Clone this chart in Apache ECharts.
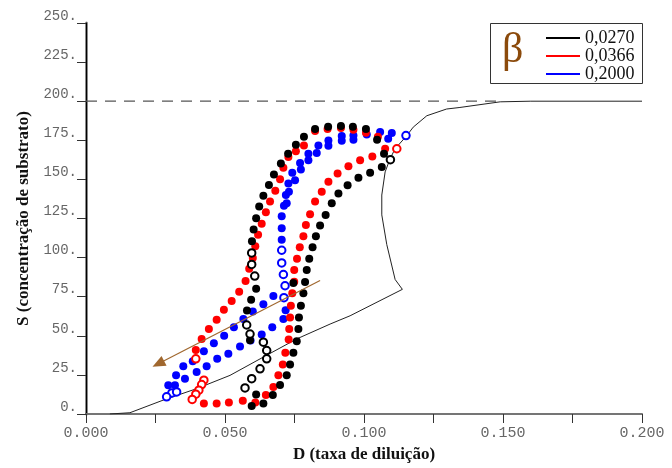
<!DOCTYPE html>
<html>
<head>
<meta charset="utf-8">
<script src="https://cdn.jsdelivr.net/npm/echarts@6/dist/echarts.min.js"></script>
<style>
  html, body { margin: 0; padding: 0; background: #fff; }
  #chart { width: 672px; height: 468px; }
</style>
</head>
<body>
<div id="chart"></div>
<script>
// data: [D, S]
var betaNames = ['0,0270', '0,0366', '0,2000'];

var blackFilled = [
  [0.1072,166.4],[0.1047,175.4],[0.1007,182.3],[0.0960,183.6],[0.0917,184.2],[0.0871,183.6],[0.0824,182.3],
  [0.0784,177.2],[0.0755,172.2],[0.0727,166.4],[0.0701,160.1],[0.0676,153.1],[0.0658,146.4],[0.0638,139.5],
  [0.0623,132.6],[0.0612,125.2],[0.0603,117.9],[0.0597,110.4],
  [0.0612,80.1],[0.0594,73.1],[0.0579,66.2],[0.0590,47.1],
  [0.0596,5.1],[0.0612,12.4],[0.0638,6.7],[0.0672,12.1],[0.0698,18.6],
  [0.0722,24.7],[0.0734,31.7],[0.0746,39.1],[0.0758,46.5],[0.0764,54.3],[0.0766,61.7],[0.0773,69.2],
  [0.0782,77.2],[0.0788,84.4],[0.0794,92.0],[0.0803,99.2],[0.0815,106.6],[0.0827,113.6],[0.0842,120.6],
  [0.0862,127.3],[0.0884,134.7],[0.0908,141.0],[0.0941,146.3],[0.0980,151.0],[0.1022,154.2],[0.1064,158.0],
  [0.0746,83.8]
];
var blackOpen = [
  [0.0596,103.0],[0.0596,95.6],[0.0607,88.2],[0.0578,56.9],[0.0590,51.1],[0.0638,45.9],[0.0650,40.6],
  [0.0650,35.3],[0.0626,28.9],[0.0596,22.6],[0.0572,16.7],[0.1095,162.6]
];

var redFilled = [
  [0.0824,181.0],[0.0869,182.3],[0.0917,182.9],[0.0962,181.7],[0.1007,179.8],[0.1050,177.2],[0.1076,169.6],
  [0.0784,171.7],[0.0755,168.0],[0.0728,164.3],[0.0710,157.5],[0.0698,150.1],[0.0681,142.8],[0.0662,135.8],
  [0.0647,129.0],[0.0632,121.6],[0.0619,114.6],[0.0609,107.2],[0.0600,99.8],[0.0587,92.8],[0.0574,85.0],
  [0.0551,78.2],[0.0524,72.3],[0.0496,66.6],[0.0470,60.2],[0.0442,54.3],[0.0416,48.0],[0.0395,41.0],
  [0.0424,6.7],[0.0470,6.7],[0.0514,7.4],[0.0564,8.4],[0.0609,7.4],[0.0647,12.1],[0.0674,17.3],
  [0.0692,24.7],[0.0708,31.7],[0.0717,39.1],[0.0729,47.6],[0.0731,54.3],[0.0734,61.7],[0.0737,69.2],
  [0.0742,77.2],[0.0749,84.6],[0.0749,92.0],[0.0759,99.2],[0.0769,106.6],[0.0782,113.6],[0.0791,120.9],
  [0.0806,127.7],[0.0824,135.8],[0.0848,142.1],[0.0872,148.5],[0.0905,153.7],[0.0944,158.4],[0.0986,162.2],
  [0.1030,164.7]
];
var redOpen = [
  [0.1118,169.6],[0.0395,35.3],[0.0424,21.6],[0.0416,18.8],[0.0406,15.2],[0.0395,12.7],[0.0382,9.3]
];

var blueFilled = [
  [0.1058,180.3],[0.1010,178.7],[0.0962,178.0],[0.0920,177.8],[0.0872,174.9],[0.0836,171.7],[0.0800,166.4],
  [0.0770,160.5],[0.0742,154.2],[0.0728,147.4],[0.0719,140.0],[0.0712,133.2],[0.0704,126.5],[0.0704,118.8],
  [0.0704,111.4],
  [0.1100,179.6],[0.1087,176.0],[0.0962,175.3],[0.0920,174.7],[0.0872,171.5],[0.0830,166.9],[0.0800,162.2],
  [0.0773,156.3],[0.0752,149.5],[0.0730,142.1],[0.0722,134.7],
  [0.0674,75.5],[0.0638,70.2],[0.0600,65.5],[0.0566,60.7],[0.0532,55.4],[0.0497,50.1],[0.0460,45.2],
  [0.0424,40.2],[0.0384,33.8],[0.0350,30.5],[0.0324,24.7],[0.0296,18.4],
  [0.0718,66.4],[0.0710,60.7],[0.0670,55.4],[0.0632,50.8],[0.0592,47.0],[0.0554,43.1],[0.0512,38.5],
  [0.0472,35.3],[0.0434,30.5],[0.0398,26.8],[0.0356,22.6],[0.0320,18.4]
];
var blueOpen = [
  [0.0704,104.7],[0.0704,96.6],[0.0710,89.2],[0.0716,82.0],[0.0712,74.4],
  [0.0309,13.5],[0.0326,14.1],[0.0290,11.0],[0.1151,178.0]
];

// steady state curve (with the turning point)
var steadyCurve = [
  [0.0086,0],[0.0158,0.8],[0.0278,8.9],[0.0398,16.2],[0.0518,24.7],[0.0638,36.4],[0.0758,48.0],
  [0.0878,57.5],[0.0950,62.8],[0.1138,79.7],[0.1112,86.0],[0.1082,108.3],[0.1064,127.3],[0.1064,140.0],
  [0.1076,154.8],[0.1094,163.3],[0.1112,169.6],[0.1154,178.0],[0.1177,183.4],[0.1226,190.7],[0.1297,195.0],
  [0.1345,196.0],[0.1490,199.6],[0.1600,200],[0.2000,200]
];
var asymptote = [[0, 200], [0.149, 200]];
var arrowFrom = [0.0842, 85.4];
var arrowTo = [0.0260, 32.1];

var colors = ['#000000', '#ff0000', '#0000ff'];

var chart = echarts.init(document.getElementById('chart'));

function filled(name, data, color) {
  return {
    type: 'scatter', name: name, data: data, symbol: 'circle', symbolSize: 8,
    itemStyle: { color: color, opacity: 1 }, z: 3
  };
}
function hollow(name, data, color) {
  return {
    type: 'scatter', name: name, data: data, symbol: 'emptyCircle', symbolSize: 7.5,
    itemStyle: { color: color, borderColor: color, borderWidth: 0.9, opacity: 1 }, z: 4
  };
}

var option = {
  animation: false,
  backgroundColor: '#fff',
  grid: { left: 86, right: 30, top: 23, bottom: 51 },
  legend: {
    data: [
      { name: betaNames[0], itemStyle: { color: colors[0] } },
      { name: betaNames[1], itemStyle: { color: colors[1] } },
      { name: betaNames[2], itemStyle: { color: colors[2] } }
    ],
    orient: 'vertical', left: 541, top: 24,
    icon: 'rect', itemWidth: 34, itemHeight: 2, itemGap: 0,
    selectedMode: false,
    textStyle: { fontFamily: 'Liberation Serif', fontSize: 18, color: '#111' }
  },
  graphic: [
    { type: 'rect', left: 490, top: 23, z: 3,
      shape: { width: 152, height: 60 },
      style: { fill: '#fff', stroke: '#333', lineWidth: 1 } },
    { type: 'text', left: 502, top: 30, z: 5,
      style: { text: 'β', font: '42px "Liberation Serif"', fill: '#8b4a0b' } }
  ],
  xAxis: [{
    type: 'value', min: 0, max: 0.2, interval: 0.025,
    name: 'D (taxa de diluição)', nameLocation: 'middle', nameGap: 32,
    nameTextStyle: { fontFamily: 'Liberation Serif', fontWeight: 'bold', fontSize: 17, color: '#111' },
    axisLine: { lineStyle: { color: '#000', width: 1.5 } },
    axisTick: { length: 9, lineStyle: { color: '#333' } },
    axisLabel: {
      fontFamily: 'Liberation Mono', fontSize: 15, color: '#666', margin: 12,
      formatter: function (v) { return Math.round(v * 1000) % 50 === 0 ? v.toFixed(3) : ''; }
    },
    splitLine: { show: false }
  }, {
    type: 'value', position: 'top', min: 0, max: 0.2,
    axisLine: { show: true, lineStyle: { color: '#888', width: 1.5 } },
    axisTick: { show: false }, axisLabel: { show: false }, splitLine: { show: false }
  }],
  yAxis: [{
    type: 'value', min: 0, max: 250, interval: 25,
    name: 'S (concentração de substrato)', nameLocation: 'middle', nameGap: 52,
    nameTextStyle: { fontFamily: 'Liberation Serif', fontWeight: 'bold', fontSize: 17, color: '#111' },
    axisLine: { show: true, lineStyle: { color: '#8a8a8a', width: 3 } },
    axisTick: { show: true, length: 9, lineStyle: { color: '#333' } },
    axisLabel: {
      fontFamily: 'Liberation Mono', fontSize: 14, color: '#666', margin: 9, verticalAlign: 'bottom',
      formatter: function (v) { return v + '.'; }
    },
    splitLine: { show: false }
  }, {
    type: 'value', position: 'right', min: 0, max: 250,
    axisLine: { show: true, lineStyle: { color: '#000', width: 1 } },
    axisTick: { show: false }, axisLabel: { show: false }, splitLine: { show: false }
  }],
  series: [
    { type: 'line', data: asymptote, showSymbol: false, silent: true,
      lineStyle: { color: '#555', width: 1.3, type: [11, 8] } },
    { type: 'line', data: steadyCurve, showSymbol: false, silent: true,
      lineStyle: { color: '#222', width: 1 },
      markLine: {
        silent: true, symbol: ['none', 'triangle'], symbolSize: [11, 13],
        label: { show: false },
        lineStyle: { color: '#a0672e', width: 1.2, type: 'solid' },
        data: [[{ coord: arrowFrom }, { coord: arrowTo }]]
      } },
    filled(betaNames[2], blueFilled, colors[2]),
    filled(betaNames[1], redFilled, colors[1]),
    filled(betaNames[0], blackFilled, colors[0]),
    hollow(betaNames[2], blueOpen, colors[2]),
    hollow(betaNames[1], redOpen, colors[1]),
    hollow(betaNames[0], blackOpen, colors[0])
  ]
};

chart.setOption(option);
</script>
</body>
</html>
